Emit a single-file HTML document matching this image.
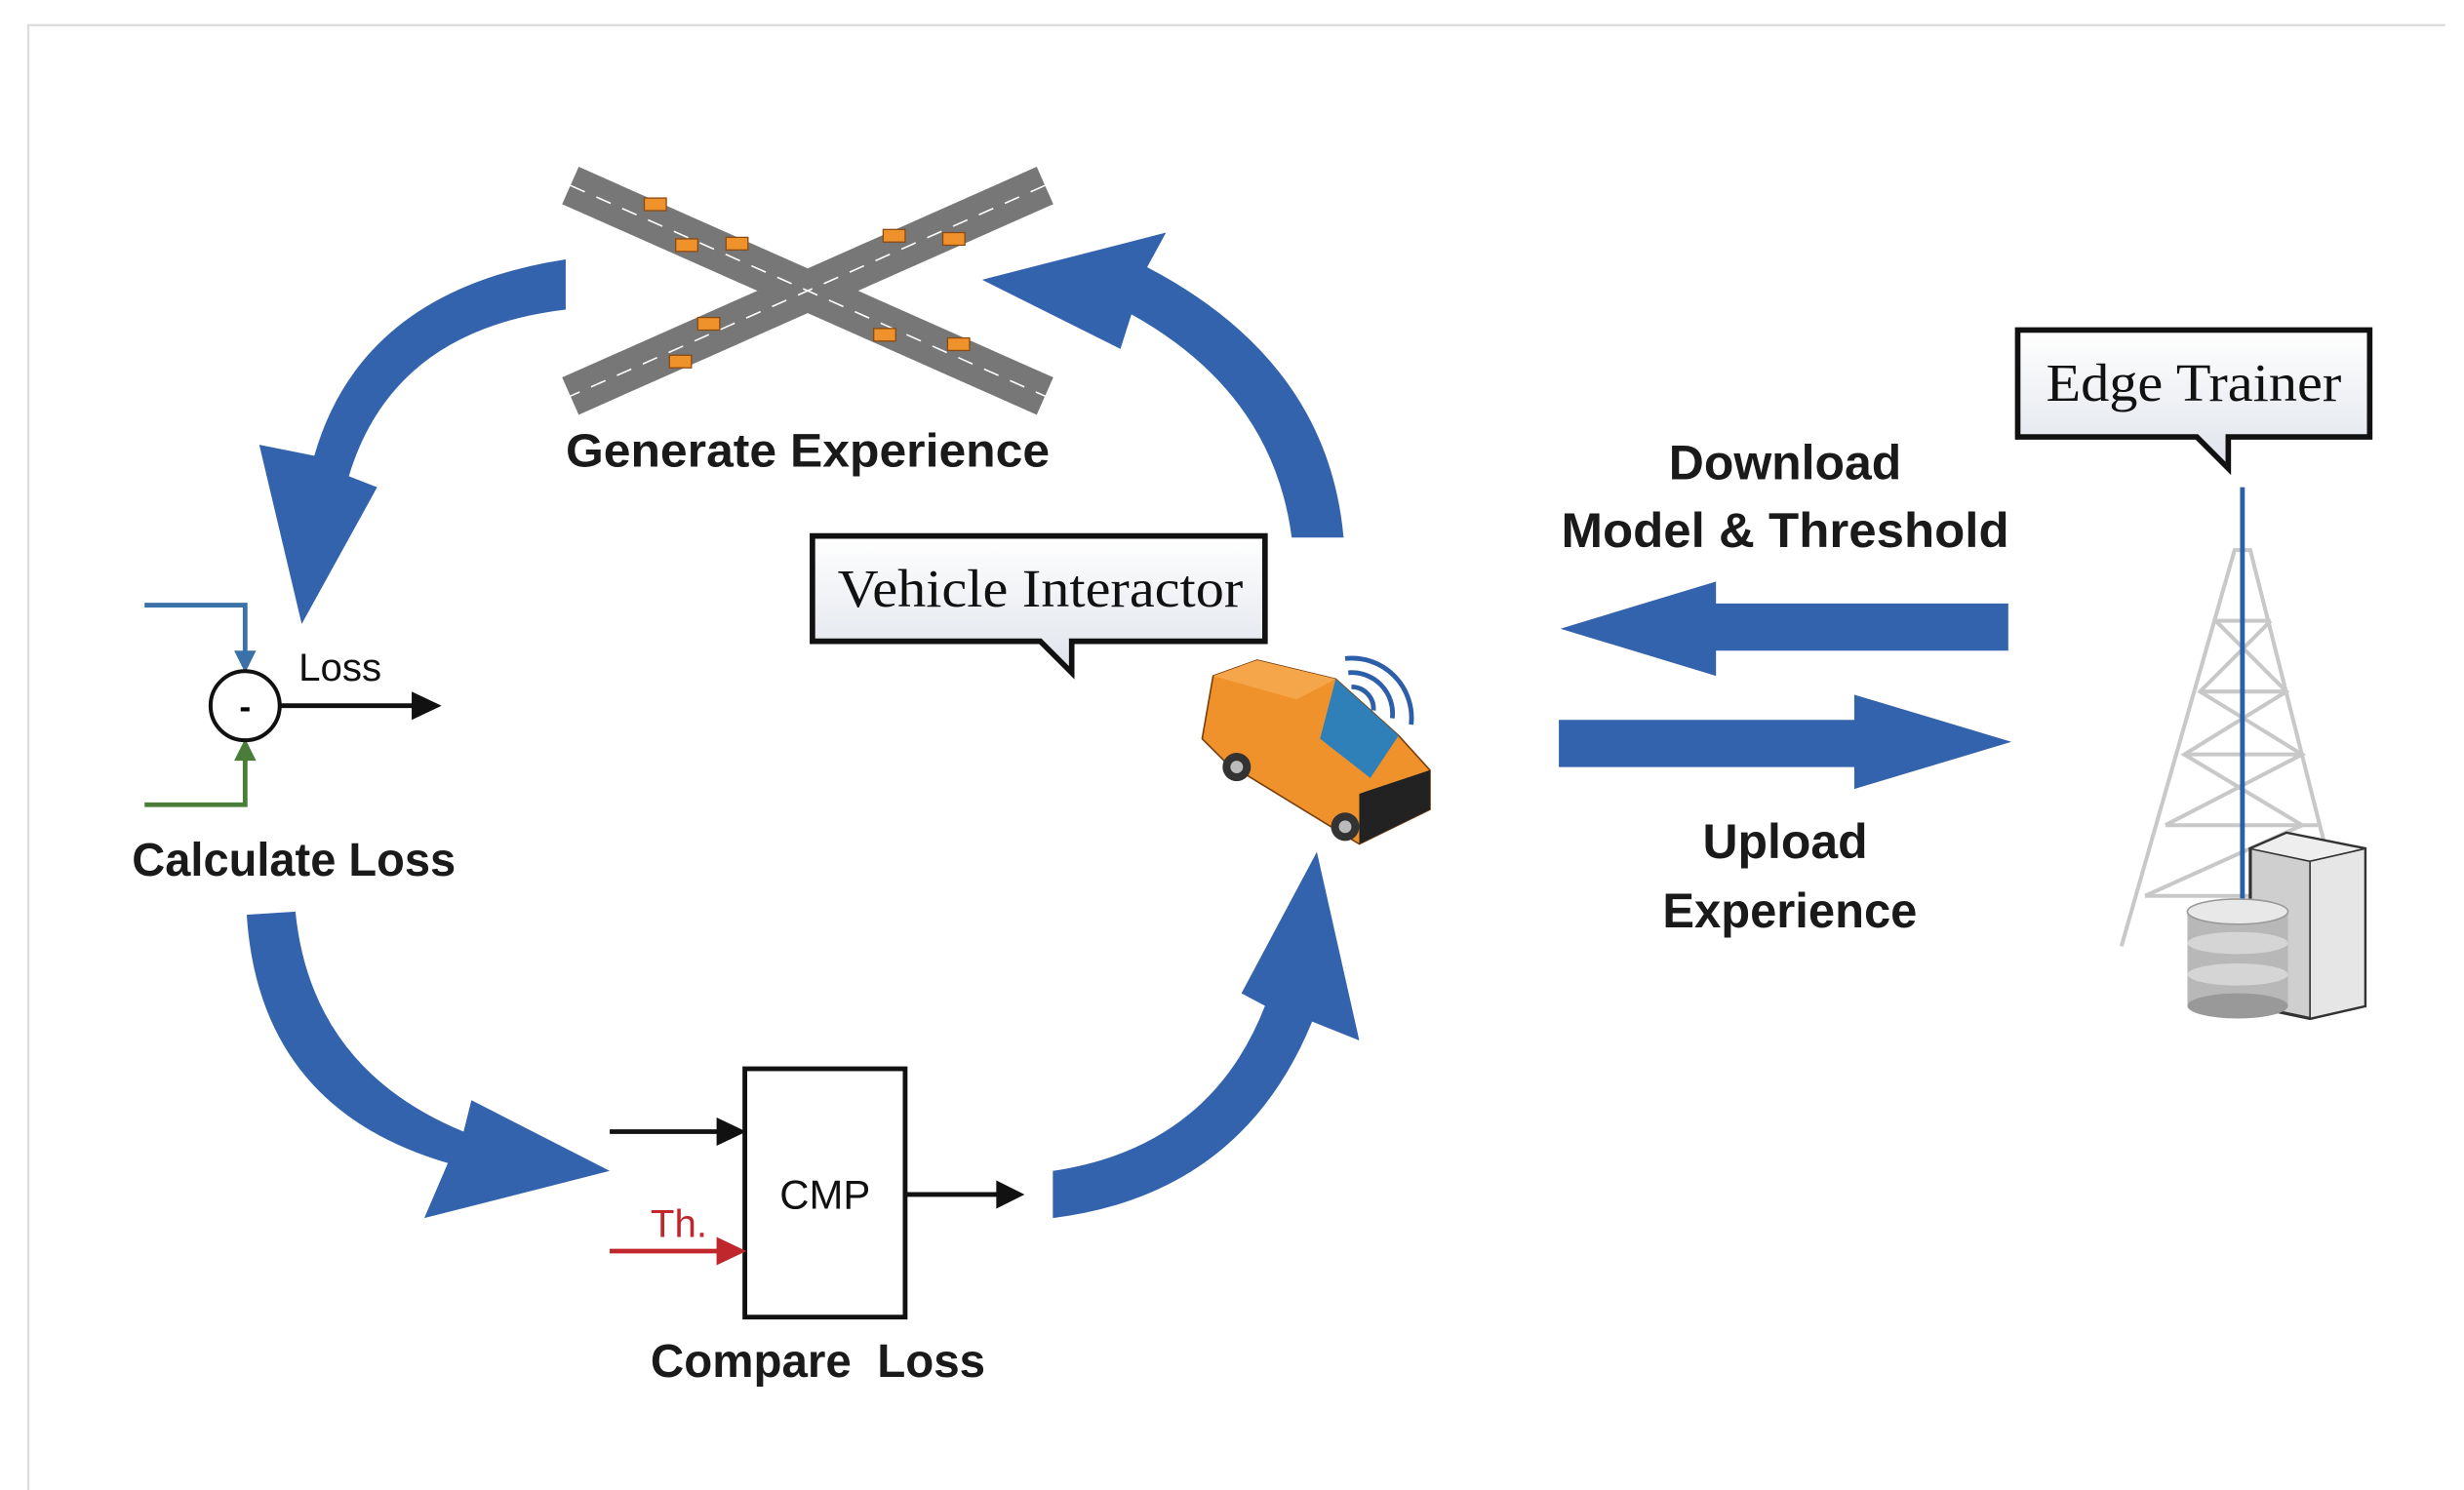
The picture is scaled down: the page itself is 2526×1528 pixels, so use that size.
<!DOCTYPE html>
<html><head><meta charset="utf-8">
<style>
html,body{margin:0;padding:0;background:#fff;width:2526px;height:1528px;overflow:hidden}
svg{display:block}
.b{font-family:"Liberation Sans",sans-serif;font-weight:bold;fill:#1a1a1a}
.s{font-family:"Liberation Serif",serif;fill:#111}
</style></head><body>
<svg width="2526" height="1528" viewBox="0 0 1568 948" preserveAspectRatio="none" xmlns="http://www.w3.org/2000/svg">
<defs>
<linearGradient id="g" x1="0" y1="0" x2="0" y2="1"><stop offset="0" stop-color="#ffffff"/><stop offset="1" stop-color="#dfe3ea"/></linearGradient>
</defs>
<rect x="0" y="0" width="1568" height="948" fill="#fff"/>
<path d="M18,948 L18,16 L1556,16" fill="none" stroke="#ddd" stroke-width="1.5"/>

<!-- curved arrows -->
<g fill="#3463ae">
<path d="M360,165 Q230,185 200,290 L165,283 L192,397 L240,310 L222,303 Q250,210 360,197 Z"/>
<path d="M855,342 Q845,230 730,170 L742,148 L625,178 L713,222 L720,200 Q810,250 822,342 Z"/>
<path d="M157,582 Q165,705 285,740 L270,775 L388,745 L300,700 L295,720 Q198,680 188,580 Z"/>
<path d="M670,775 Q790,760 835,650 L865,662 L838,542 L790,632 L805,640 Q770,730 670,745 Z"/>
<path d="M1278,384 L1092,384 L1092,370 L993,400 L1092,430 L1092,414 L1278,414 Z"/>
<path d="M992,458 L1180,458 L1180,442 L1280,472 L1180,502 L1180,488 L992,488 Z"/>
</g>

<!-- crossroad -->
<g>
<line x1="363" y1="118" x2="665" y2="252" stroke="#777" stroke-width="26"/>
<line x1="665" y1="118" x2="363" y2="252" stroke="#777" stroke-width="26"/>
<line x1="363" y1="118" x2="665" y2="252" stroke="#fff" stroke-width="1" stroke-dasharray="10 8"/>
<line x1="665" y1="118" x2="363" y2="252" stroke="#fff" stroke-width="1" stroke-dasharray="10 8"/>
<g fill="#f0922c" stroke="#8a4a10" stroke-width="0.8">
<rect x="410" y="126" width="14" height="8"/><rect x="430" y="152" width="14" height="8"/><rect x="462" y="151" width="14" height="8"/>
<rect x="562" y="146" width="14" height="8"/><rect x="600" y="148" width="14" height="8"/><rect x="444" y="202" width="14" height="8"/>
<rect x="426" y="226" width="14" height="8"/><rect x="556" y="209" width="14" height="8"/><rect x="603" y="215" width="14" height="8"/>
</g>
</g>
<text class="b" x="360" y="297" font-size="30" textLength="308" lengthAdjust="spacingAndGlyphs">Generate Experience</text>

<!-- vehicle interactor bubble -->
<path d="M517,341 H805 V408 H682 L682,428 L662,408 H517 Z" fill="url(#g)" stroke="#111" stroke-width="3.5"/>
<text class="s" x="533" y="386" font-size="34" textLength="258" lengthAdjust="spacingAndGlyphs">Vehicle Interactor</text>

<!-- edge trainer bubble -->
<path d="M1284,210 H1508 V278 H1418 L1418,298 L1398,278 H1284 Z" fill="url(#g)" stroke="#111" stroke-width="3.5"/>
<text class="s" x="1302" y="255" font-size="34" textLength="188" lengthAdjust="spacingAndGlyphs">Edge Trainer</text>

<text class="b" x="1136" y="305" font-size="31" text-anchor="middle">Download</text>
<text class="b" x="1136" y="348" font-size="31" text-anchor="middle" textLength="285" lengthAdjust="spacingAndGlyphs">Model &amp; Threshold</text>
<text class="b" x="1136" y="546" font-size="31" text-anchor="middle">Upload</text>
<text class="b" x="1139" y="590" font-size="31" text-anchor="middle" textLength="162" lengthAdjust="spacingAndGlyphs">Experience</text>

<!-- van -->
<g>
<path d="M772,430 L800,420 L850,432 L890,468 L910,490 L910,515 L865,537 L780,485 L765,470 Z" fill="#f0922c" stroke="#7a3e0a" stroke-width="1"/>
<path d="M850,432 L890,468 L872,495 L840,470 Z" fill="#2f7fb8"/>
<path d="M772,430 L800,420 L850,432 L825,445 Z" fill="#f6a64a"/>
<path d="M865,505 L910,490 L910,515 L865,537 Z" fill="#222"/>
<circle cx="787" cy="488" r="9" fill="#333"/><circle cx="787" cy="488" r="4" fill="#bbb"/>
<circle cx="856" cy="526" r="9" fill="#333"/><circle cx="856" cy="526" r="4" fill="#bbb"/>
<g fill="none" stroke="#2d5ea8" stroke-width="3">
<path d="M860,437 A14,14 0 0 1 874,452"/>
<path d="M858,428 A26,26 0 0 1 886,457"/>
<path d="M856,419 A38,38 0 0 1 898,461"/>
</g>
</g>

<!-- tower -->
<g stroke="#c8c8c8" stroke-width="2.5" fill="none">
<path d="M1350,602 L1422,350 L1432,350 L1480,540"/>
<path d="M1410,395 L1445,395 M1400,440 L1455,440 M1390,480 L1465,480 M1378,525 L1475,525 M1365,570 L1445,570"/>
<path d="M1410,395 L1455,440 L1390,480 L1465,525 L1365,570 M1445,395 L1400,440 L1465,480 L1378,525"/>
</g>
<line x1="1427" y1="310" x2="1427" y2="590" stroke="#2d5ea8" stroke-width="3"/>
<g>
<path d="M1432,540 L1455,530 L1505,540 L1505,640 L1470,648 L1432,640 Z" fill="#cfcfcf" stroke="#333" stroke-width="2"/>
<path d="M1455,530 L1505,540 L1470,548 L1432,540 Z" fill="#eee" stroke="#333" stroke-width="1"/>
<path d="M1470,548 L1505,540 L1505,640 L1470,648 Z" fill="#e6e6e6" stroke="#333" stroke-width="1"/>
<rect x="1392" y="580" width="64" height="60" fill="#b8b8b8"/>
<ellipse cx="1424" cy="640" rx="32" ry="8" fill="#999"/>
<ellipse cx="1424" cy="620" rx="32" ry="7" fill="#d5d5d5"/>
<ellipse cx="1424" cy="600" rx="32" ry="7" fill="#d5d5d5"/>
<ellipse cx="1424" cy="580" rx="32" ry="8" fill="#e8e8e8" stroke="#999"/>
</g>

<!-- calculate loss -->
<polyline points="92,385 156,385 156,418" fill="none" stroke="#3a72a8" stroke-width="3"/>
<path d="M149,414 L156,428 L163,414 Z" fill="#3a72a8"/>
<polyline points="92,512 156,512 156,480" fill="none" stroke="#4a7d3a" stroke-width="3"/>
<path d="M149,484 L156,470 L163,484 Z" fill="#4a7d3a"/>
<circle cx="156" cy="449" r="22" fill="#fff" stroke="#111" stroke-width="2.5"/>
<text x="156" y="457" font-family="Liberation Sans,sans-serif" font-size="22" font-weight="bold" text-anchor="middle">-</text>
<line x1="178" y1="449" x2="268" y2="449" stroke="#111" stroke-width="3"/>
<path d="M262,440 L281,449 L262,458 Z" fill="#111"/>
<text x="190" y="433" font-family="Liberation Sans,sans-serif" font-size="25" fill="#111">Loss</text>
<text class="b" x="84" y="557" font-size="30" textLength="206" lengthAdjust="spacingAndGlyphs">Calculate Loss</text>

<!-- compare -->
<rect x="474" y="680" width="102" height="158" fill="#fff" stroke="#111" stroke-width="3"/>
<text x="525" y="769" font-family="Liberation Sans,sans-serif" font-size="26" text-anchor="middle" fill="#111">CMP</text>
<line x1="388" y1="720" x2="462" y2="720" stroke="#111" stroke-width="3"/>
<path d="M456,711 L475,720 L456,729 Z" fill="#111"/>
<line x1="388" y1="796" x2="462" y2="796" stroke="#c0272d" stroke-width="3"/>
<path d="M456,787 L475,796 L456,805 Z" fill="#c0272d"/>
<text x="414" y="787" font-family="Liberation Sans,sans-serif" font-size="25" fill="#c0272d">Th.</text>
<line x1="576" y1="760" x2="640" y2="760" stroke="#111" stroke-width="3"/>
<path d="M634,751 L652,760 L634,769 Z" fill="#111"/>
<text class="b" x="414" y="876" font-size="30" textLength="213" lengthAdjust="spacingAndGlyphs" xml:space="preserve">Compare  Loss</text>
</svg>
</body></html>
